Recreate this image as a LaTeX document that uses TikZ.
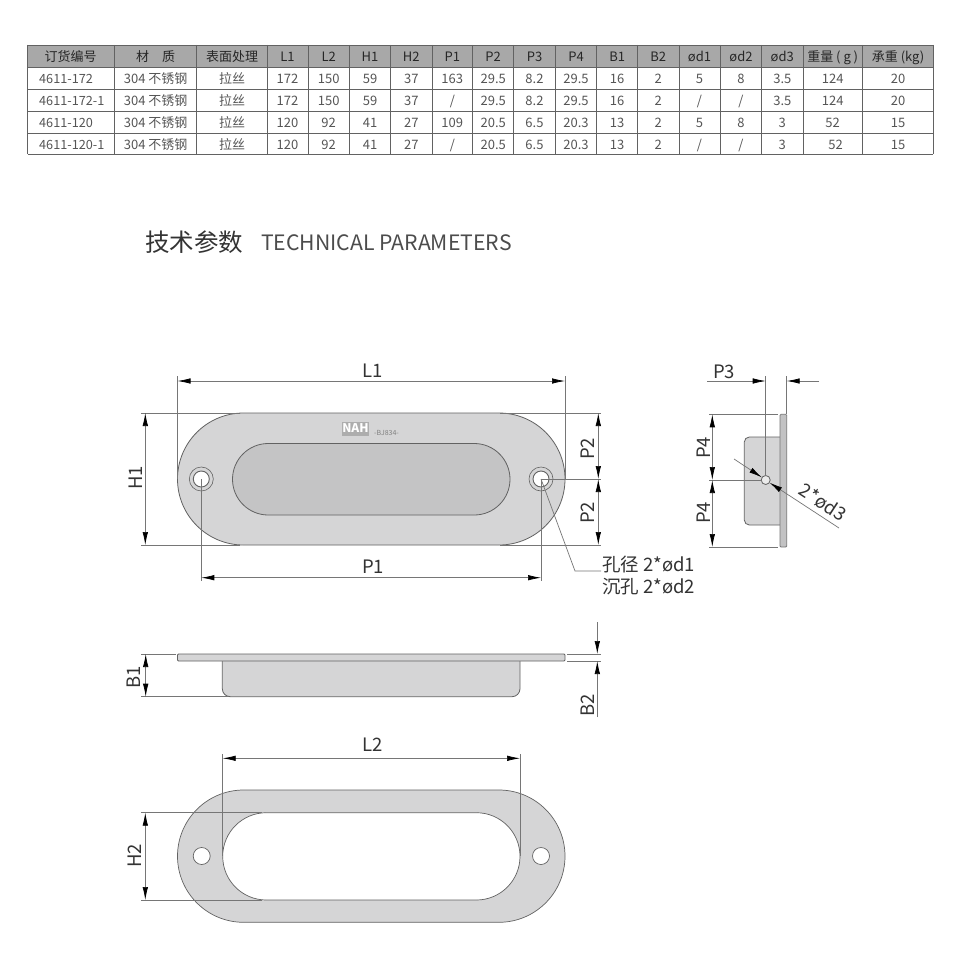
\documentclass[tikz,border=0pt]{standalone}
\usepackage{fontspec}
\setmainfont{Noto Sans CJK SC}
\usetikzlibrary{arrows.meta}

\definecolor{partgray}{HTML}{D5D5D6}
\definecolor{pocketgray}{HTML}{C4C4C5}
\definecolor{flangegray}{HTML}{C2C2C3}
\definecolor{edgegray}{HTML}{626262}
\definecolor{dimgray}{HTML}{767676}
\definecolor{headgray}{HTML}{A8A8A8}
\definecolor{cellink}{HTML}{555555}

\newcommand{\slsh}{/}

\tikzset{
  >={Latex[length=13pt,width=5.5pt,black]},
  part/.style={fill=partgray, draw=edgegray, line width=.8pt},
  dimline/.style={draw=dimgray, line width=.7pt},
  dimtext/.style={inner sep=0pt, text=black!80, font=\fontsize{18.5}{20}\selectfont},
  cell/.style={inner sep=0pt, anchor=base, text=cellink, font=\fontsize{13}{16}\selectfont},
  headcell/.style={cell, text=black!85}
}

\begin{document}
\begin{tikzpicture}[x=1pt,y=-1pt]

        \path[use as bounding box, fill=white] (0,0) rectangle (960,958);

        % table
        \fill[headgray] (27.5,45) rectangle (933,67);
        \foreach \yl in {45,67,89,111,133,154}
          \draw[edgegray, line width=.8pt] (27.5,\yl) -- (933,\yl);
        \foreach \xl in {27.5,114.7,196.7,267,308,349.3,390.7,432,472.7,513.7,555.3,596.7,637.7,679,720,761.7,803,862.3,933}
          \draw[edgegray, line width=.8pt] (\xl,45) -- (\xl,154);

        \node[headcell] (head1) at (70.5,61.5) {订货编号};
        \foreach \r/\yc/\txt in {1/83.5/4611-172, 2/105.5/4611-172-1, 3/127.5/4611-120, 4/149/4611-120-1}
          \node[cell, anchor=base west, font=\fontsize{12.7}{16}\selectfont] (no\r) at (39,\yc) {\txt};

        \foreach \c/\xc/\head/\va/\vb/\vc/\vd in {
            2/155.7/{材\quad 质}/304 不锈钢/304 不锈钢/304 不锈钢/304 不锈钢,
            3/232/表面处理/拉丝/拉丝/拉丝/拉丝,
            4/287.5/L1/172/172/120/120,
            5/328.7/L2/150/150/92/92,
            6/370/H1/59/59/41/41,
            7/411.3/H2/37/37/27/27,
            8/452.3/P1/163/\slsh/109/\slsh,
            9/493.2/P2/29.5/29.5/20.5/20.5,
            10/534.5/P3/8.2/8.2/6.5/6.5,
            11/576/P4/29.5/29.5/20.3/20.3,
            12/617.2/B1/16/16/13/13,
            13/658.3/B2/2/2/2/2,
            14/699.5/ød1/5/\slsh/5/\slsh,
            15/741/ød2/8/\slsh/8/\slsh,
            16/782.3/ød3/3.5/3.5/3/3,
            17/832.7/{重量 ( g )}/124/124/52/{\hspace*{6pt}52},
            18/898/{承重 (kg)}/20/20/15/15}
        {
          \node[headcell] (head\c) at (\xc,61.5) {\head};
          \node[cell] (val\c-1) at (\xc,83.5) {\va};
          \node[cell] (val\c-2) at (\xc,105.5) {\vb};
          \node[cell] (val\c-3) at (\xc,127.5) {\vc};
          \node[cell] (val\c-4) at (\xc,149) {\vd};
        }

        % heading
        \node[inner sep=0pt, anchor=base west, text=black!80, font=\fontsize{24.5}{26}\selectfont] (titlecn) at (145,251) {技术参数};
        \node[inner sep=0pt, anchor=base west, text=black!70, font=\fontsize{21.2}{24}\selectfont] (titleen) at (261,250) {TECHNICAL PARAMETERS};

        % top view
        \draw[part] (243.5,413) arc[start angle=-90, end angle=-270, radius=66] -- (499,545)
          arc[start angle=90, end angle=-90, radius=66] -- cycle;
        \draw[part, fill=pocketgray] (268.25,443.5) arc[start angle=-90, end angle=-270, radius=35.75] -- (474.25,515)
          arc[start angle=90, end angle=-90, radius=35.75] -- cycle;
        \foreach \n/\xh in {holea/201.3, holeb/541}
        {
          \draw[part, line width=.6pt] (\xh,479) circle (12pt);
          \draw[part, fill=white, line width=.9pt] (\xh,479) circle (8pt);
          \coordinate (\n) at (\xh,479);
        }
        \node[inner sep=0pt, minimum width=27pt, minimum height=14pt, fill=black!32, text=white, font=\fontsize{12}{12}\selectfont\bfseries] (logo) at (355.5,428.5) {NAH};
        \node[inner sep=0pt, text=black!50, font=\fontsize{7}{7}\selectfont] (logotext) at (386.5,432.5) {-BJ834-};

        \coordinate (l1a) at (177.5,381);
        \coordinate (l1b) at (565,381);
        \draw[dimline] (177.5,376) -- (177.5,479);
        \draw[dimline] (565,376) -- (565,479);
        \draw[dimline, <->] (l1a) -- (l1b);
        \node[dimtext] (labell1) at (372.5,371) {L1};

        \coordinate (h1a) at (145.3,413);
        \coordinate (h1b) at (145.3,545);
        \draw[dimline] (141,413) -- (240,413);
        \draw[dimline] (141,545) -- (240,545);
        \draw[dimline, <->] (h1a) -- (h1b);
        \node[dimtext, rotate=90] (labelh1) at (136,478) {H1};

        \coordinate (p1a) at (201.3,577.7);
        \coordinate (p1b) at (541,577.7);
        \draw[dimline] (holea) -- (201.3,581);
        \draw[dimline] (holeb) -- (541,581);
        \draw[dimline, <->] (p1a) -- (p1b);
        \node[dimtext] (labelp1) at (373,567) {P1};

        \coordinate (p2a) at (598.3,413);
        \coordinate (p2b) at (598.3,479);
        \coordinate (p2c) at (598.3,545);
        \draw[dimline] (500,413) -- (601,413);
        \draw[dimline] (holeb) -- (601,479);
        \draw[dimline] (500,545) -- (601,545);
        \draw[dimline, <->] (p2a) -- (p2b);
        \draw[dimline, <->] (p2b) -- (p2c);
        \node[dimtext, rotate=90] (labelp2a) at (588,449) {P2};
        \node[dimtext, rotate=90] (labelp2b) at (588,513) {P2};

        \node[dimtext, anchor=west] (labeld1) at (602,564) {孔径 2*ød1};
        \node[dimtext, anchor=west] (labeld2) at (602,587) {沉孔 2*ød2};
        \draw[dimline] (holeb) -- (575,571) -- (601,571);

        % side view
        \draw[part, rounded corners=5pt] (780,437) -- (744.3,437) -- (744.3,525) -- (780,525);
        \draw[part, fill=flangegray, draw=dimgray, rounded corners=1pt] (780,414.3) rectangle (786.7,547);
        \draw[part, fill=black!8] (765.7,480) circle (4.5pt);
        \coordinate (holec) at (765.7,480);

        \coordinate (p3a) at (707,381);
        \coordinate (p3b) at (765.7,381);
        \coordinate (p3c) at (786.7,381);
        \coordinate (p3d) at (819,381);
        \draw[dimline] (765.7,376) -- (765.7,475.5);
        \draw[dimline] (786.7,376) -- (786.7,414);
        \draw[dimline, ->] (p3a) -- (p3b);
        \draw[dimline, ->] (p3d) -- (p3c);
        \node[dimtext] (labelp3) at (724,372) {P3};

        \coordinate (p4a) at (712.3,414.3);
        \coordinate (p4b) at (712.3,480);
        \coordinate (p4c) at (712.3,547);
        \draw[dimline] (709,414.3) -- (778,414.3);
        \draw[dimline] (709,480) -- (761,480);
        \draw[dimline] (709,547) -- (778,547);
        \draw[dimline, <->] (p4a) -- (p4b);
        \draw[dimline, <->] (p4b) -- (p4c);
        \node[dimtext, rotate=90] (labelp4a) at (704,448) {P4};
        \node[dimtext, rotate=90] (labelp4b) at (704,513) {P4};

        \coordinate (d3a) at (734,459);
        \coordinate (d3b) at (761.9,477.4);
        \coordinate (d3c) at (769.5,482.6);
        \coordinate (d3d) at (839,528);
        \draw[dimline, ->] (d3a) -- (d3b);
        \draw[dimline, ->] (d3d) -- (d3c);
        \node[dimtext, rotate=-33] (labeld3) at (823,502) {2*ød3};

        % front view
        \draw[part, rounded corners=8pt] (222.3,661) -- (222.3,696.7) -- (520,696.7) -- (520,661);
        \draw[part, rounded corners=1pt] (177.5,654) rectangle (565,661);

        \coordinate (b1a) at (145.7,654);
        \coordinate (b1b) at (145.7,696.7);
        \draw[dimline] (141,654) -- (176,654);
        \draw[dimline] (141,696.7) -- (228,696.7);
        \draw[dimline, <->] (b1a) -- (b1b);
        \node[dimtext, rotate=90] (labelb1) at (134,677) {B1};

        \coordinate (b2a) at (597.3,622);
        \coordinate (b2b) at (597.3,654);
        \coordinate (b2c) at (597.3,661);
        \coordinate (b2d) at (597.3,717);
        \draw[dimline] (567,654) -- (601,654);
        \draw[dimline] (567,661) -- (601,661);
        \draw[dimline, ->] (b2a) -- (b2b);
        \draw[dimline, ->] (b2d) -- (b2c);
        \node[dimtext, rotate=90] (labelb2) at (588,705) {B2};

        % cut-out view
        \path[part, even odd rule, line width=.7pt]
          (243.65,790) arc[start angle=-90, end angle=-270, radius=66.15] -- (498.85,922.3)
            arc[start angle=90, end angle=-90, radius=66.15] -- cycle
          (266.35,812.7) arc[start angle=-90, end angle=-270, radius=43.65] -- (476.35,900)
            arc[start angle=90, end angle=-90, radius=43.65] -- cycle;
        \foreach \n/\xh in {holed/201.7, holee/541}
        {
          \draw[part, fill=white, line width=.7pt] (\xh,856) circle (8.5pt);
          \coordinate (\n) at (\xh,856);
        }

        \coordinate (l2a) at (222.7,758.3);
        \coordinate (l2b) at (520,758.3);
        \draw[dimline] (222.7,754) -- (222.7,856);
        \draw[dimline] (520,754) -- (520,856);
        \draw[dimline, <->] (l2a) -- (l2b);
        \node[dimtext] (labell2) at (372.5,745) {L2};

        \coordinate (h2a) at (145.3,812.7);
        \coordinate (h2b) at (145.3,900);
        \draw[dimline] (141,812.7) -- (262,812.7);
        \draw[dimline] (141,900) -- (262,900);
        \draw[dimline, <->] (h2a) -- (h2b);
        \node[dimtext, rotate=90] (labelh2) at (135,856) {H2};

      \end{tikzpicture}
\end{document}
